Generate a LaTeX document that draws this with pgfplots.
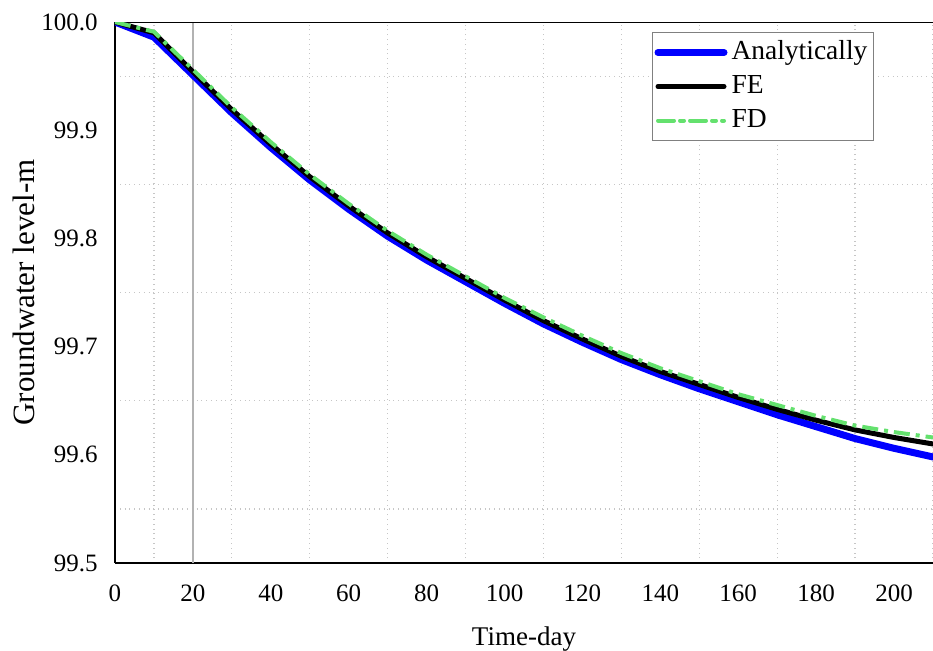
\documentclass[border=0pt]{standalone}
\usepackage{pgfplots}
\pgfplotsset{compat=1.18}
\usepackage{fontspec}
\setmainfont{Liberation Serif}

\definecolor{fdgreen}{RGB}{100,225,110}

\pgfplotstableread{
t     an      fe      fd
0     100.000 100.000 100.000
10    99.986  99.990  99.991
20    99.951  99.954  99.956
30    99.916  99.919  99.921
40    99.884  99.887  99.889
50    99.854  99.857  99.859
60    99.827  99.830  99.832
70    99.802  99.805  99.807
80    99.780  99.783  99.785
90    99.760  99.763  99.765
100   99.740  99.743  99.745
110   99.721  99.724  99.727
120   99.704  99.707  99.710
130   99.688  99.691  99.694
140   99.674  99.677  99.680
150   99.661  99.665  99.668
160   99.649  99.653  99.656
170   99.637  99.642  99.646
180   99.626  99.632  99.636
190   99.615  99.623  99.627
200   99.606  99.616  99.621
210   99.598  99.610  99.616
}\levels

\begin{document}
\begin{tikzpicture}
\begin{axis}[
  scale only axis,
  width=409pt, height=270.5pt,
  xmin=0, xmax=210, ymin=99.5, ymax=100,
  axis x line*=bottom, axis y line*=left,
  axis line style={black, line width=1pt, -},
  xtick distance=20, ytick distance=0.1,
  minor x tick num=1, minor y tick num=1,
  minor grid style={gray!45, dotted, line width=0.6pt},
  xminorgrids=true, yminorgrids=true,
  major tick length=0pt, minor tick length=0pt,
  ticklabel style={font=\fontsize{12.5}{14}\selectfont, inner sep=0pt},
  /pgf/number format/assume math mode=true,
  yticklabel style={/pgf/number format/fixed, /pgf/number format/fixed zerofill,
    /pgf/number format/precision=1, anchor=east, xshift=-8.5pt},
  xticklabel style={anchor=center, yshift=-15pt},
  xlabel={Time-day}, ylabel={Groundwater level-m},
  xlabel style={font=\fontsize{13.5}{15}\selectfont,
    at={(axis description cs:0.5,0)}, anchor=center, yshift=-38pt},
  ylabel style={font=\fontsize{15.5}{17}\selectfont,
    at={(axis description cs:0,0.5)}, anchor=center, yshift=45.5pt},
  legend style={at={(0.6565,0.9815)}, anchor=north west, draw=gray, line width=0.5pt,
    font=\fontsize{13.75}{15}\selectfont, inner xsep=1pt, inner ysep=3pt, row sep=3pt,
    nodes={inner ysep=0pt, inner xsep=2pt, text height=10.5pt, text depth=3.5pt},
    cells={anchor=west}},
  legend cell align=left,
  legend image code/.code={\draw[#1, line cap=round] (1pt,0pt) -- (34pt,0pt);},
  clip=true,
]
\draw[gray!60, line width=0.6pt] (axis cs:20,99.5) -- (axis cs:20,100);
\draw[black, line width=1pt] (rel axis cs:0,1) -- (rel axis cs:1,1);
\addplot[blue, line width=3.5pt, line cap=round] table[x=t, y=an] {\levels};
\addlegendentry{Analytically}
\addplot[black, line width=2.5pt, line cap=round] table[x=t, y=fe] {\levels};
\addlegendentry{FE}
\addplot[fdgreen, line width=2pt, dash pattern=on 8pt off 3pt on 2pt off 3pt] table[x=t, y=fd] {\levels};
\addlegendentry{FD}
\end{axis}
\pgfresetboundingbox
\path (-57.5pt,-43.5pt) rectangle (409pt,281.5pt);
\end{tikzpicture}
\end{document}
